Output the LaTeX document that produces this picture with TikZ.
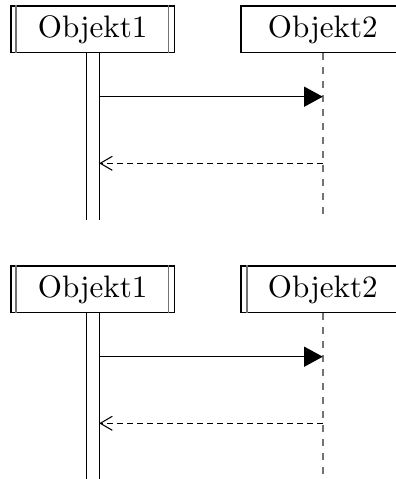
\documentclass[tikz,border=0pt]{standalone}
\usetikzlibrary{arrows.meta,calc}
\begin{document}
\begin{tikzpicture}[x=0.75pt,y=-0.75pt,
  objbox/.style={draw, line width=1pt, minimum width=122.5pt, minimum height=35pt, inner sep=0pt},
  innerline/.style={draw=black!55, line width=1.2pt},
  actline/.style={line width=0.9pt},
  lifeline/.style={draw=black!55, line width=1.1pt, dash pattern=on 5pt off 5.5pt},
  call/.style={line width=0.9pt, -{Triangle[length=14pt,width=15pt]}},
  reply/.style={line width=0.8pt, dash pattern=on 4.2pt off 3.3pt, -{Straight Barb[length=9pt,width=10.5pt]}}]
\useasboundingbox (0,0) rectangle (396,479);
\clip (0,0) rectangle (396,479);
\foreach \dy/\n/\both in {0/a/0, 260/b/1}{
  \node[objbox] (o1\n) at (92.7,29.4+\dy) {\scalebox{2.33}{Objekt1}};
  \node[objbox] (o2\n) at (322.8,29.4+\dy) {\scalebox{2.33}{Objekt2}};
  \draw[innerline] ([xshift=4.4pt]o1\n.north west) -- ([xshift=4.4pt]o1\n.south west);
  \draw[innerline] ([xshift=-4.8pt]o1\n.north east) -- ([xshift=-4.8pt]o1\n.south east);
  \ifnum\both=1
    \draw[innerline] ([xshift=4.7pt]o2\n.north west) -- ([xshift=4.7pt]o2\n.south west);
  \fi
  \coordinate (e1\n) at (92.7,220+\dy);
  \coordinate (e2\n) at (322.8,220+\dy);
  \coordinate (m\n) at (0,96.7+\dy);
  \coordinate (r\n) at (0,163.3+\dy);
  % activation bar of Objekt1
  \draw[actline] ([xshift=-4.6pt]o1\n.south) -- ([xshift=-4.6pt]e1\n);
  \draw[actline] ([xshift=4.9pt]o1\n.south) -- ([xshift=4.9pt]e1\n);
  % lifeline of Objekt2
  \draw[lifeline] (o2\n.south) -- (e2\n);
  % messages
  \draw[call] ([xshift=4.9pt]o1\n.south |- m\n) -- (o2\n.south |- m\n);
  \draw[reply] (o2\n.south |- r\n) -- ([xshift=4.9pt]o1\n.south |- r\n);
}
\end{tikzpicture}
\end{document}
